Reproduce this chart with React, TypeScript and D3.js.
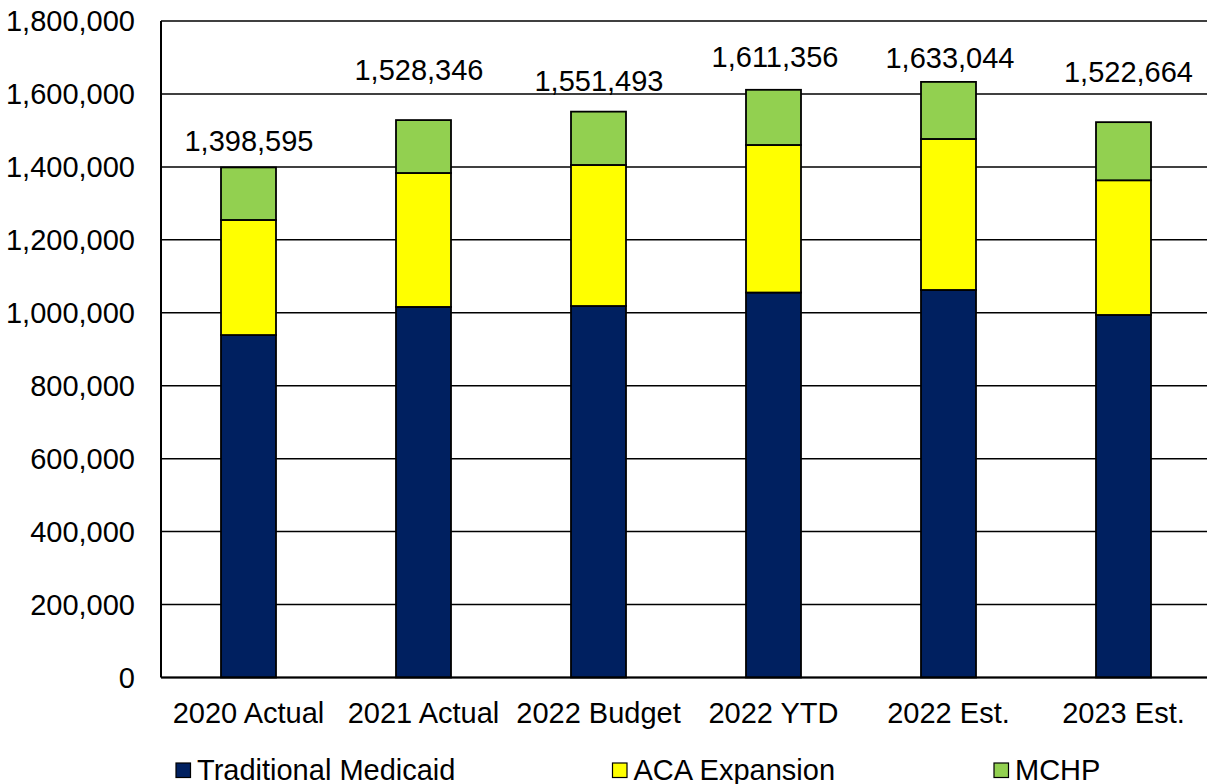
import React from "react";
import * as d3 from "d3";

const categories = ["2020 Actual", "2021 Actual", "2022 Budget", "2022 YTD", "2022 Est.", "2023 Est."];
const traditional = [939000, 1016000, 1018600, 1055500, 1062500, 994000];
const aca = [315500, 367300, 386700, 404600, 414100, 369300];
const totals = [1398595, 1528346, 1551493, 1611356, 1633044, 1522664];
const seriesNames = ["Traditional Medicaid", "ACA Expansion", "MCHP"];
const yTicks = [0, 200000, 400000, 600000, 800000, 1000000, 1200000, 1400000, 1600000, 1800000];

// label placement (px) relative to bar top, as in the original
const labelLift = [16.5, 40, 21, 23, 13.5, 40];
const labelDx = [0.5, -4.5, 0.5, 1.5, 1.5, 5];

const colors = ["#002060", "#FFFF00", "#92D050"];
const FONT = "'Liberation Sans', Arial, sans-serif";

export default function App() {
  const W = 1207, H = 784;
  const left = 161, right = 1211, top = 21, bottom = 677.5;
  const mchp = totals.map((t, i) => t - traditional[i] - aca[i]);
  const rows = categories.map((c, i) => ({ cat: c, t: traditional[i], a: aca[i], m: mchp[i] }));
  const stack = d3.stack<any>().keys(["t", "a", "m"])(rows);
  const x = d3.scaleBand().domain(categories).range([left, right]).paddingInner(0).paddingOuter(0);
  const y = d3.scaleLinear().domain([0, 1800000]).range([bottom, top]);
  const barW = 55;
  const fmt = d3.format(",");
  const legendX = [176, 612.5, 994];
  const fs = 29;

  return (
    <svg width={W} height={H} style={{ position: "absolute", left: 0, top: 0, background: "#fff" }} fontFamily={FONT}>
      <rect x={0} y={0} width={W} height={H} fill="#fff" />
      {yTicks.map((t) => (
        <g key={t}>
          <line x1={left} x2={right} y1={y(t)} y2={y(t)} stroke="#000" strokeWidth={1.5} />
          <text x={135} y={y(t) + 10} textAnchor="end" fontSize={fs} fill="#000">{fmt(t)}</text>
        </g>
      ))}
      {stack.map((s, si) => (
        <g key={si}>
          {s.map((d, i) => {
            const cx = (x(categories[i]) as number) + x.bandwidth() / 2;
            return (
              <rect key={i} x={cx - barW / 2} y={y(d[1])} width={barW} height={y(d[0]) - y(d[1])}
                fill={colors[si]} stroke="#000" strokeWidth={1.8} />
            );
          })}
        </g>
      ))}
      <line x1={left} x2={left} y1={top} y2={bottom} stroke="#000" strokeWidth={2} />
      <line x1={left} x2={right} y1={bottom} y2={bottom} stroke="#000" strokeWidth={2} />
      {categories.map((c, i) => {
        const cx = (x(c) as number) + x.bandwidth() / 2;
        return (
          <g key={c}>
            <text x={cx} y={723} textAnchor="middle" fontSize={fs} fill="#000">{c}</text>
            <text x={cx + labelDx[i]} y={y(totals[i]) - labelLift[i]} textAnchor="middle" fontSize={fs} fill="#000">
              {fmt(totals[i])}
            </text>
          </g>
        );
      })}
      {seriesNames.map((n, i) => (
        <g key={n}>
          <rect x={legendX[i]} y={763} width={14.5} height={14.5} fill={colors[i]} stroke="#000" strokeWidth={1.2} />
          <text x={legendX[i] + 21} y={780} fontSize={fs} fill="#000">{n}</text>
        </g>
      ))}
    </svg>
  );
}
